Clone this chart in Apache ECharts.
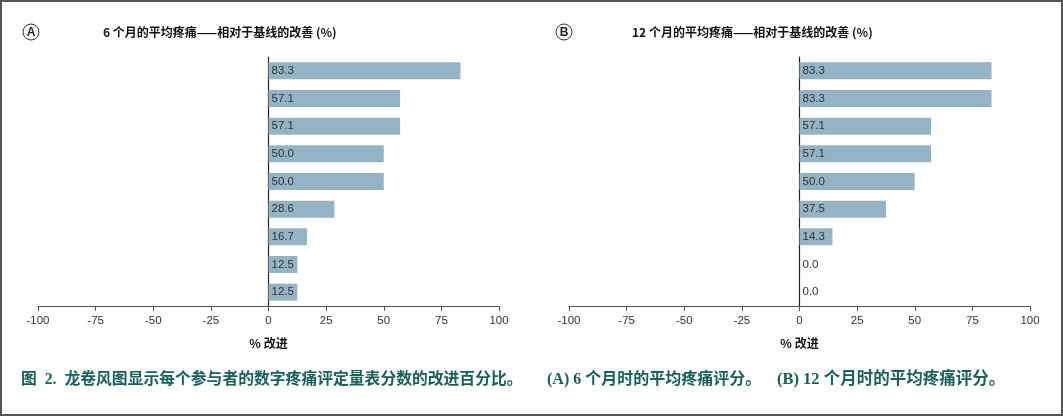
<!DOCTYPE html>
<html><head><meta charset="utf-8">
<script src="https://cdn.jsdelivr.net/npm/echarts@6/dist/echarts.min.js"></script>
<style>html,body{margin:0;padding:0;background:#fff}#c{width:1063px;height:416px}</style>
</head><body><div id="c"></div>
<script>
const categories = ['P1','P2','P3','P4','P5','P6','P7','P8','P9'];
const valuesA = [83.3, 57.1, 57.1, 50.0, 50.0, 28.6, 16.7, 12.5, 12.5];
const valuesB = [83.3, 83.3, 57.1, 57.1, 50.0, 37.5, 14.3, 0.0, 0.0];
const titleA = '6 个月的平均疼痛——相对于基线的改善 (%)';
const titleB = '12 个月的平均疼痛——相对于基线的改善 (%)';
const axisName = '% 改进';
const captionParts = ['图  2.  龙卷风图显示每个参与者的数字疼痛评定量表分数的改进百分比。', '(A) 6 个月时的平均疼痛评分。', '(B) 12 个月时的平均疼痛评分。'];

const chart = echarts.init(document.getElementById('c'));
const F = '"Liberation Sans", Arial, sans-serif';
const CJK = '"Noto Sans CJK SC", sans-serif';
const CAP = '"Liberation Serif", "Noto Sans CJK SC", serif';
function xAx(i){return {gridIndex:i,type:'value',min:-100,max:100,interval:25,
  axisLine:{show:true,onZero:false,lineStyle:{color:'#555',width:1.2}},
  axisTick:{show:true,length:5,inside:false,lineStyle:{color:'#555'}},
  axisLabel:{color:'#333',fontFamily:F,fontSize:11.5,margin:9},
  splitLine:{show:false},
  name:axisName,nameLocation:'middle',nameGap:31,
  nameTextStyle:{color:'#111',fontFamily:CJK,fontWeight:'bold',fontSize:12}};}
function yAx(i){return {gridIndex:i,type:'category',data:categories,inverse:true,
  axisLine:{show:true,onZero:true,lineStyle:{color:'#222',width:1.2}},
  axisTick:{show:false},axisLabel:{show:false}};}
function ser(i,vals){return {type:'bar',xAxisIndex:i,yAxisIndex:i,data:vals,barWidth:17,
  itemStyle:{color:'#94b4c5'},
  label:{show:true,position:'insideLeft',offset:[-2,0],color:'#333',fontFamily:F,fontSize:11.5,
    formatter:p=>p.value.toFixed(1)}};}
chart.setOption({
  animation:false,
  grid:[{left:38,width:461,top:57,bottom:110},{left:569,width:461,top:57,bottom:110}],
  xAxis:[xAx(0),xAx(1)],
  yAxis:[yAx(0),yAx(1)],
  series:[ser(0,valuesA),ser(1,valuesB)],
  graphic:[
    {type:'rect',shape:{x:1,y:1,width:1061,height:414},style:{fill:'none',stroke:'#555',lineWidth:2}},
    {type:'circle',shape:{cx:31,cy:32,r:8},style:{fill:'none',stroke:'#333',lineWidth:1}},
    {type:'text',x:31,y:32.5,style:{text:'A',fill:'#222',font:'bold 12px '+F,align:'center',verticalAlign:'middle'}},
    {type:'circle',shape:{cx:564,cy:32,r:8},style:{fill:'none',stroke:'#333',lineWidth:1}},
    {type:'text',x:564,y:32.5,style:{text:'B',fill:'#222',font:'bold 12px '+F,align:'center',verticalAlign:'middle'}},
    {type:'text',x:103,y:32,style:{text:titleA,fill:'#111',font:'bold 12px '+CJK,verticalAlign:'middle'}},
    {type:'text',x:632,y:32,style:{text:titleB,fill:'#111',font:'bold 12px '+CJK,verticalAlign:'middle'}},
    {type:'text',x:21,y:380,style:{text:captionParts[0],fill:'#18605c',font:'bold 15.8px '+CAP,verticalAlign:'middle'}},
    {type:'text',x:547,y:380,style:{text:captionParts[1],fill:'#18605c',font:'bold 16px '+CAP,verticalAlign:'middle'}},
    {type:'text',x:777,y:380,style:{text:captionParts[2],fill:'#18605c',font:'bold 16.5px '+CAP,verticalAlign:'middle'}}
  ]
});
</script></body></html>
